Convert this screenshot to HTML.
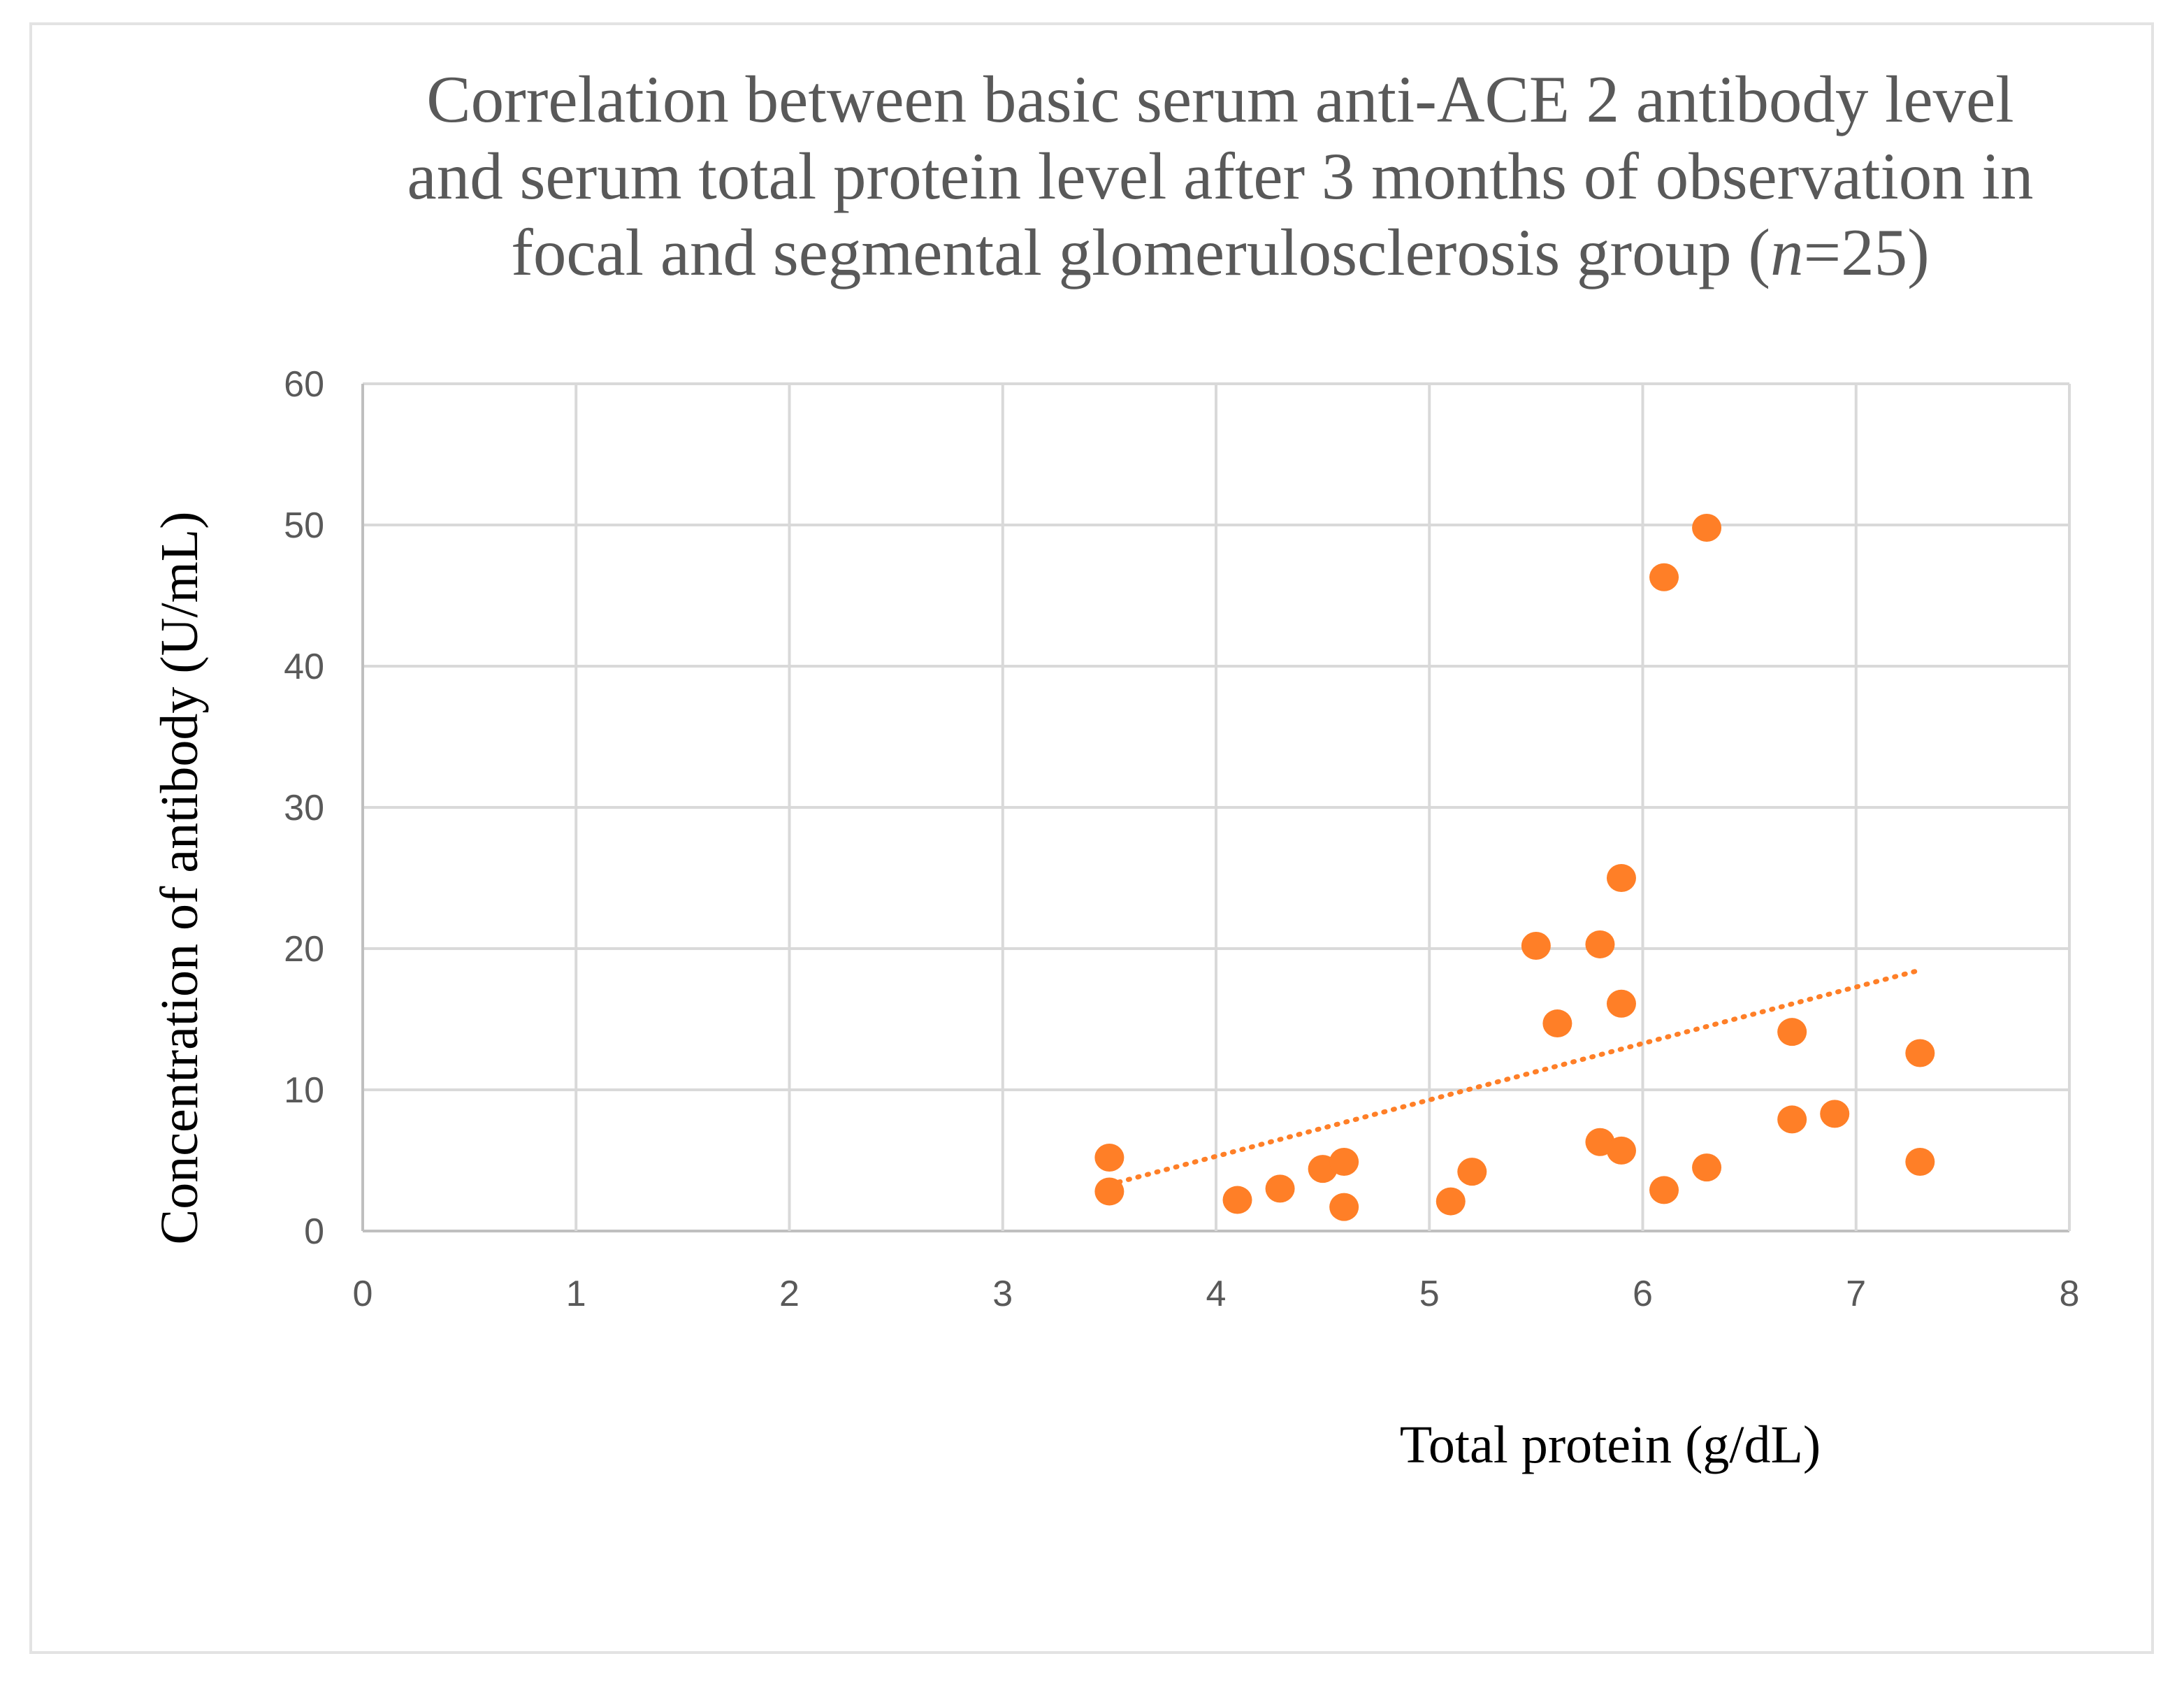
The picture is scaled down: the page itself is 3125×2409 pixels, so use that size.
<!DOCTYPE html>
<html><head><meta charset="utf-8"><style>
html,body{margin:0;padding:0;background:#fff;}
svg{display:block;}
</style></head><body>
<svg id="chart" width="3125" height="2409" viewBox="0 0 3125 2409" xmlns="http://www.w3.org/2000/svg">
<rect x="44" y="34" width="3036" height="2330" fill="#fff" stroke="#e3e3e3" stroke-width="4"/>
<g font-family="'Liberation Serif', serif" font-size="95" fill="#595959" text-anchor="middle">
<text x="1746" y="174">Correlation between basic serum anti-ACE 2 antibody level</text>
<text x="1746" y="284">and serum total protein level after 3 months of observation in</text>
<text x="1746" y="393">focal and segmental glomerulosclerosis group (<tspan font-style="italic">n</tspan>=25)</text>
</g>
<g id="grid"></g>
<g id="marks"></g>
<text transform="translate(282,1256) rotate(-90)" text-anchor="middle" font-family="'Liberation Serif', serif" font-size="76" fill="#000">Concentration of antibody (U/mL)</text>
<text x="2304" y="2092" text-anchor="middle" font-family="'Liberation Serif', serif" font-size="76" fill="#000">Total protein (g/dL)</text>
</svg>
<script>
const xTicks = [0,1,2,3,4,5,6,7,8];
const yTicks = [0,10,20,30,40,50,60];
const proteinX = [3.5,3.5,4.1,4.3,4.5,4.6,4.6,5.1,5.2,5.5,5.6,5.8,5.8,5.9,5.9,5.9,6.1,6.3,6.1,6.3,6.7,6.7,6.9,7.3,7.3];
const antibodyY = [5.2,2.8,2.2,3.0,4.4,4.9,1.7,2.1,4.2,20.2,14.7,20.3,6.3,25.0,16.1,5.7,46.3,49.8,2.9,4.5,14.1,7.9,8.3,12.6,4.9];

const NS = 'http://www.w3.org/2000/svg';
const L = 519, R = 2961, T = 549, B = 1761;
const xMin = 0, xMax = 8, yMin = 0, yMax = 60;
const sx = v => L + (v - xMin) / (xMax - xMin) * (R - L);
const sy = v => B - (v - yMin) / (yMax - yMin) * (B - T);
function mk(tag, attrs, parent){
  const e = document.createElementNS(NS, tag);
  for (const k in attrs) e.setAttribute(k, attrs[k]);
  parent.appendChild(e);
  return e;
}
const grid = document.getElementById('grid');
const marks = document.getElementById('marks');
yTicks.forEach(t => {
  const ln = mk('line', {x1:L, x2:R, y1:sy(t), y2:sy(t), stroke: t===0?'#bfbfbf':'#d9d9d9', 'stroke-width':4}, grid);
  
  
  const tx = mk('text', {x:464, y:sy(t)+18, 'text-anchor':'end', 'font-family':"'Liberation Sans', sans-serif", 'font-size':52, fill:'#595959'}, grid);
  tx.textContent = t;
  
  
});
xTicks.forEach(t => {
  const ln = mk('line', {x1:sx(t), x2:sx(t), y1:T, y2:B, stroke: t===0?'#bfbfbf':'#d9d9d9', 'stroke-width':4}, grid);
  
  
  const tx = mk('text', {x:sx(t), y:1868, 'text-anchor':'middle', 'font-family':"'Liberation Sans', sans-serif", 'font-size':52, fill:'#595959'}, grid);
  tx.textContent = t;
  
  
});
const n = proteinX.length;
const mx = proteinX.reduce((a,b)=>a+b,0)/n, my = antibodyY.reduce((a,b)=>a+b,0)/n;
let sxy=0, sxx=0;
for (let i=0;i<n;i++){ sxy += (proteinX[i]-mx)*(antibodyY[i]-my); sxx += (proteinX[i]-mx)**2; }
const slope = sxy/sxx, icpt = my - slope*mx;
const x0 = Math.min(...proteinX), x1 = Math.max(...proteinX);
const tl = mk('line', {x1:sx(x0), y1:sy(icpt+slope*x0), x2:sx(x1), y2:sy(icpt+slope*x1), stroke:'#ff7f27', 'stroke-width':7, 'stroke-dasharray':'2 12', 'stroke-linecap':'round'}, marks);


proteinX.forEach((x,i) => {
  const c = mk('ellipse', {cx:sx(x), cy:sy(antibodyY[i]), rx:21, ry:20, fill:'#ff7f27'}, marks);
  
  
});
</script>
</body></html>
